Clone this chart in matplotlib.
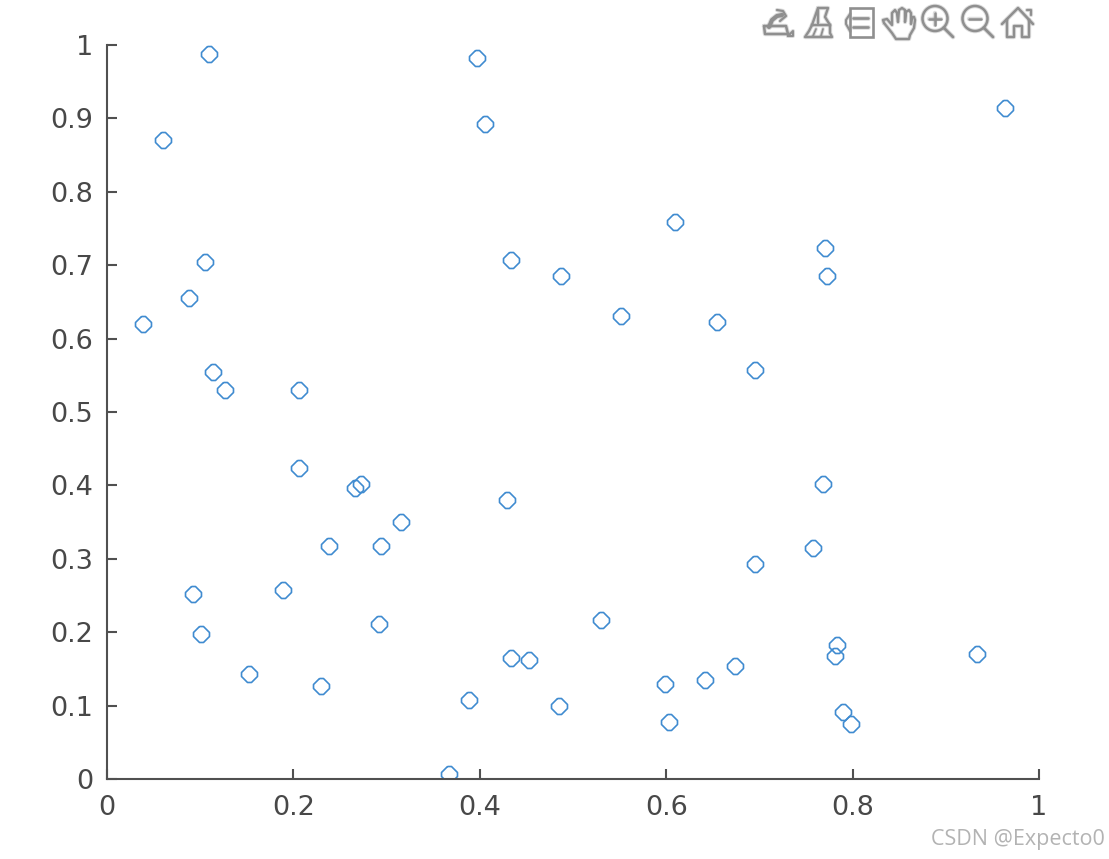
import matplotlib
matplotlib.use("Agg")
import matplotlib.pyplot as plt
from matplotlib.patches import Circle, Rectangle

# scatter values
x_vals = [0.109, 0.397, 0.964, 0.406, 0.060, 0.609, 0.770, 0.773, 0.105, 0.433,
          0.487, 0.088, 0.039, 0.551, 0.655, 0.695, 0.114, 0.127, 0.206, 0.206,
          0.266, 0.273, 0.768, 0.429, 0.315, 0.238, 0.294, 0.757, 0.695, 0.092,
          0.189, 0.530, 0.292, 0.101, 0.783, 0.781, 0.933, 0.433, 0.453, 0.674,
          0.152, 0.642, 0.599, 0.230, 0.388, 0.485, 0.790, 0.603, 0.798, 0.367]
y_vals = [0.988, 0.982, 0.914, 0.892, 0.871, 0.759, 0.723, 0.685, 0.704, 0.707,
          0.685, 0.655, 0.620, 0.631, 0.623, 0.557, 0.554, 0.530, 0.530, 0.424,
          0.396, 0.402, 0.402, 0.380, 0.350, 0.317, 0.317, 0.315, 0.293, 0.252,
          0.257, 0.217, 0.211, 0.198, 0.183, 0.168, 0.170, 0.165, 0.162, 0.154,
          0.143, 0.135, 0.129, 0.127, 0.108, 0.099, 0.091, 0.078, 0.075, 0.007]
x_ticks = [0, 0.2, 0.4, 0.6, 0.8, 1]
y_ticks = [0, 0.1, 0.2, 0.3, 0.4, 0.5, 0.6, 0.7, 0.8, 0.9, 1]

W, H = 1109, 859
TXT = '#484848'
ICON = '#8f8f8f'

fig = plt.figure(figsize=(W / 100, H / 100), dpi=100)
ax = fig.add_axes([107 / W, 1 - 779 / H, 932 / W, 734 / H])

# diamond with cut corners, close to the blurry markers of the original
blunt_diamond = [(-0.25, 1), (0.25, 1), (1, 0.25), (1, -0.25),
                 (0.25, -1), (-0.25, -1), (-1, -0.25), (-1, 0.25), (-0.25, 1)]
ax.plot(x_vals, y_vals, linestyle='none', marker=blunt_diamond, markersize=11.5,
        markerfacecolor='none', markeredgecolor='#3f8bd0', markeredgewidth=1.2)

ax.set_xlim(0, 1)
ax.set_ylim(0, 1)
ax.set_xticks(x_ticks)
ax.set_xticklabels([f'{t:g}' for t in x_ticks])
ax.set_yticks(y_ticks)
ax.set_yticklabels([f'{t:g}' for t in y_ticks])
ax.tick_params(direction='in', length=7, width=1.5, color='#505050',
               labelcolor=TXT, labelsize=19.5)
ax.tick_params(axis='x', pad=11.5)
ax.tick_params(axis='y', pad=10)
ax.spines['top'].set_visible(False)
ax.spines['right'].set_visible(False)
ax.spines['left'].set_linewidth(1.5)
ax.spines['bottom'].set_linewidth(1.5)
ax.spines['left'].set_color('#505050')
ax.spines['bottom'].set_color('#505050')

# toolbar icons, overlay in pixel coordinates
tb = fig.add_axes([0, 0, 1, 1])
tb.set_xlim(0, W)
tb.set_ylim(H, 0)
tb.axis('off')
tb.patch.set_alpha(0)


def stroke(xs, ys, lw=1.6):
    # wide pale pass under the line gives the soft look of the screenshot
    tb.plot(xs, ys, color=ICON, alpha=0.3, linewidth=lw + 1.4, solid_capstyle='round', solid_joinstyle='round')
    tb.plot(xs, ys, color=ICON, linewidth=lw, solid_capstyle='round', solid_joinstyle='round')


def ring(cx, cy, r):
    tb.add_patch(Circle((cx, cy), r, fill=False, edgecolor=ICON, alpha=0.3, linewidth=3.2))
    tb.add_patch(Circle((cx, cy), r, fill=False, edgecolor=ICON, linewidth=1.8))


# edit
stroke([764, 765, 788, 786, 764], [26, 34, 34, 26, 26], 1.8)
stroke([769, 772, 777, 782], [27, 20, 16, 15], 3)
stroke([777, 783, 786, 780], [10, 11, 16, 21], 1.6)
stroke([788, 793, 793, 788], [36, 36, 31, 36], 1.5)
# brush
stroke([818, 818, 812, 830, 825, 828, 818], [23, 8, 25, 25, 17, 8, 8], 1.7)
stroke([812, 809, 805, 832, 830, 830], [25, 31, 37, 37, 33, 25], 1.7)
stroke([816, 813], [29, 36], 1.3)
stroke([823, 821], [29, 36], 1.3)
# legend
tb.add_patch(Rectangle((850, 8), 23, 29, fill=False, edgecolor=ICON, linewidth=1.9))
stroke([850, 846, 846, 850], [14, 20, 24, 31], 1.5)
stroke([853, 868], [18, 18], 1.9)
stroke([853, 868], [27, 27], 1.9)
# hand
stroke([884, 883, 887, 892, 892, 895, 897, 898, 899, 902, 905, 905, 906, 909, 911, 911,
        912, 914, 915, 914, 910, 909, 896, 892, 884],
       [23, 20, 19, 25, 13, 10, 13, 22, 10, 8, 10, 22, 12, 10, 13, 24,
        17, 17, 20, 28, 35, 39, 39, 33, 23], 1.7)
# zoom in
ring(935, 18.5, 12.5)
stroke([944, 953], [28, 37], 2)
stroke([929, 941], [18.5, 18.5], 1.8)
stroke([935, 935], [12.5, 24.5], 1.8)
# zoom out
ring(975, 18.5, 12.5)
stroke([984, 993], [28, 37], 2)
stroke([969, 981], [18.5, 18.5], 1.8)
# home
stroke([1002, 1018, 1033], [24, 8, 24], 1.8)
stroke([1007, 1007, 1014, 1014, 1022, 1022, 1029, 1029], [20, 37, 37, 26, 26, 37, 37, 20], 1.7)
stroke([1027, 1031, 1031], [10, 10, 15], 1.6)

# watermark
tb.text(1105, 839, 'CSDN @Expecto0', ha='right', va='center', fontsize=15.5, color='#b3b3b3',
        family='Open Sans')

fig.savefig('out.png', dpi=100)
